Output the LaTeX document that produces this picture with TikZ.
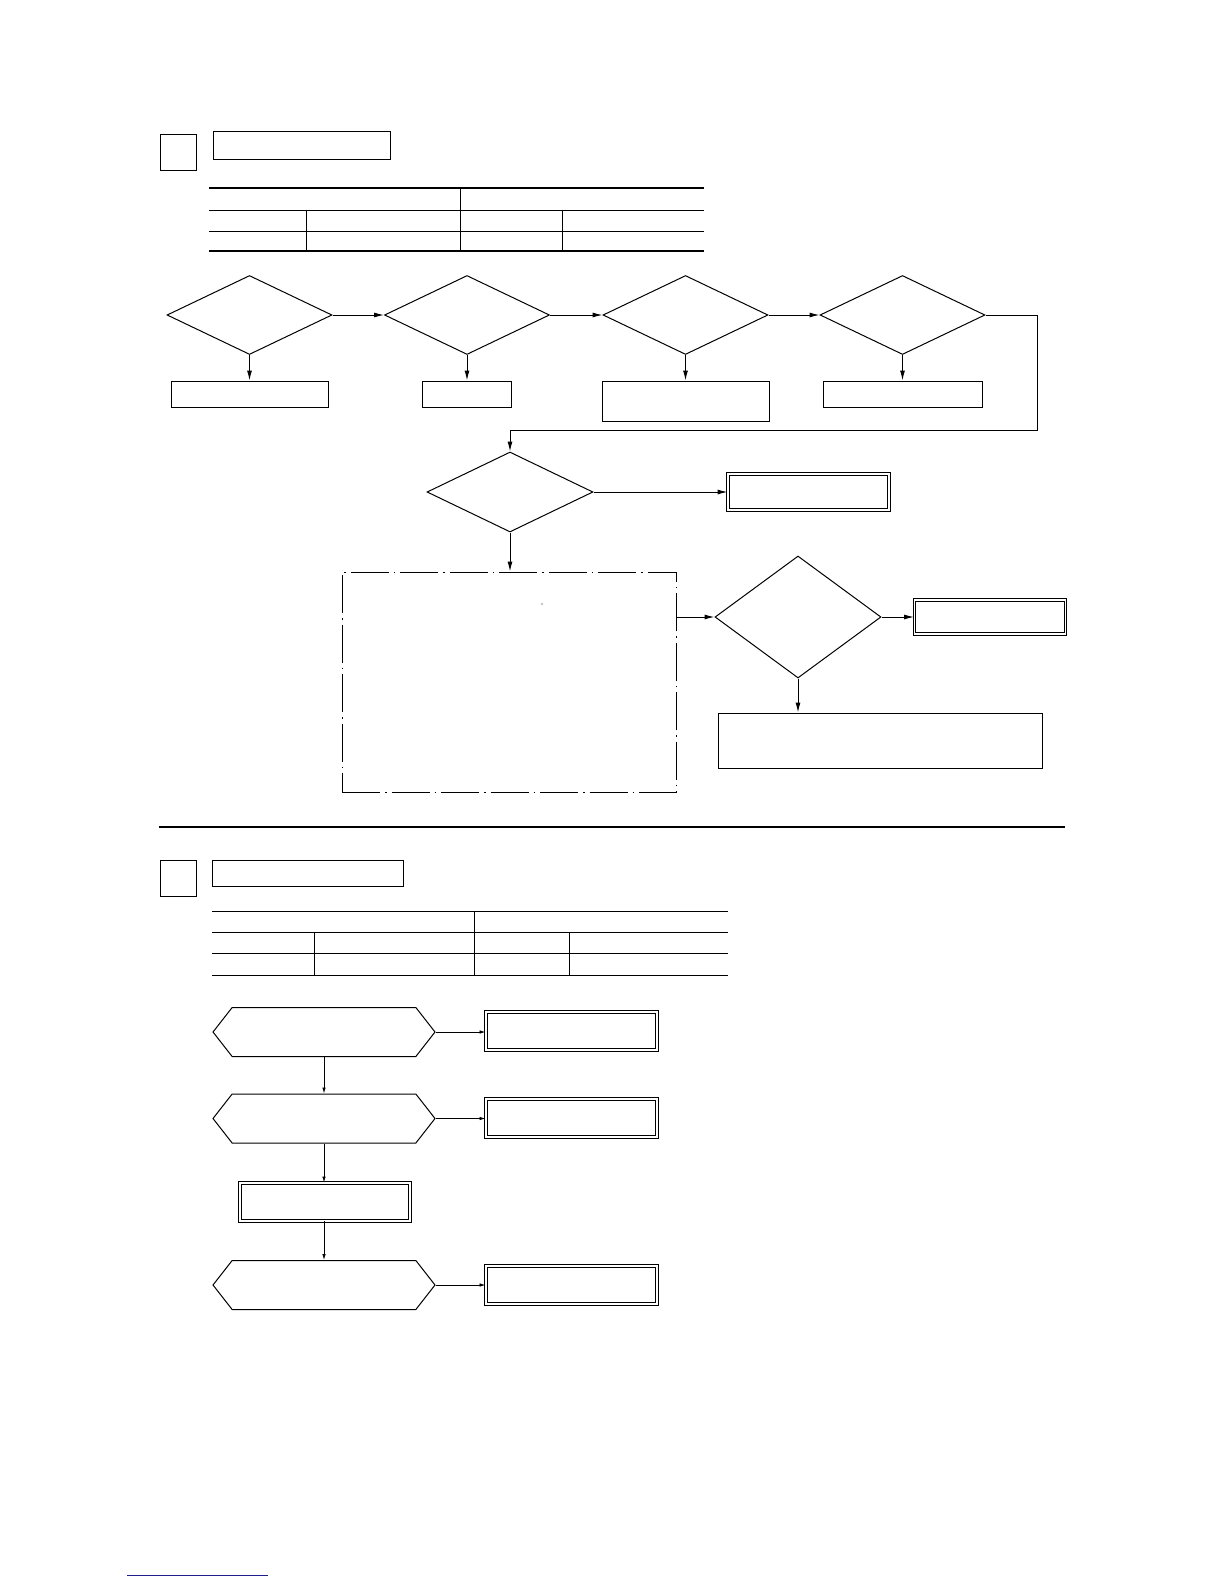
\documentclass[tikz,border=0pt]{standalone}
\usetikzlibrary{arrows.meta,shapes.geometric,shapes.symbols}
\begin{document}
\begin{tikzpicture}[x=1pt,y=-1pt,
 ln/.style={line width=1pt},
 box/.style={draw,line width=1pt,inner sep=0pt,rectangle},
 dbox/.style={draw,line width=0.9pt,double,double distance=1.6pt,inner sep=0pt,rectangle},
 dia/.style={draw,line width=1pt,diamond,inner sep=0pt,aspect=1},
 hex/.style={draw,line width=1pt,signal,signal to=east and west,signal pointer angle=104,inner sep=0pt},
 arr/.style={line width=1pt,-{Latex[length=10pt,width=5pt]}},
 sarr/.style={line width=0.8pt,-{Latex[length=6pt,width=3.5pt]}}]
\useasboundingbox (0,0) rectangle (1224,1584);
% ---------- Section A ----------
\node[box,minimum width=36,minimum height=35] (sqA) at (178,152.5) {};
\node[box,minimum width=177,minimum height=27] (ttlA) at (301.5,145.5) {};
\draw[line width=2.5pt] (209,188) -- (704,188);
\draw[ln] (209,210) -- (704,210);
\draw[ln] (209,231) -- (704,231);
\draw[line width=2.5pt] (209,251) -- (704,251);
\draw[ln] (460,188) -- (460,251);
\draw[ln] (306,210) -- (306,251);
\draw[ln] (562,210) -- (562,251);

\node[dia,minimum width=165,minimum height=79] (d1) at (249.5,315) {};
\node[dia,minimum width=165,minimum height=79] (d2) at (467,315) {};
\node[dia,minimum width=165,minimum height=79] (d3) at (685.5,315) {};
\node[dia,minimum width=165,minimum height=79] (d4) at (902.5,315) {};
\node[box,minimum width=157,minimum height=26] (b1) at (249.5,394) {};
\node[box,minimum width=89,minimum height=26] (b2) at (467,394) {};
\node[box,minimum width=167,minimum height=40] (b3) at (685.5,401) {};
\node[box,minimum width=159,minimum height=26] (b4) at (902.5,394) {};
\draw[arr] (d1.east) -- (d2.west);
\draw[arr] (d2.east) -- (d3.west);
\draw[arr] (d3.east) -- (d4.west);
\draw[arr] (d1.south) -- (b1.north);
\draw[arr] (d2.south) -- (b2.north);
\draw[arr] (d3.south) -- (b3.north);
\draw[arr] (d4.south) -- (b4.north);

\node[dia,minimum width=166,minimum height=80] (d5) at (510,492) {};
\coordinate (lr) at (1037,430);
\draw[arr] (d4.east) -| (lr) -| (d5.north);
\node[dbox,minimum width=161,minimum height=36] (e1) at (808.5,492) {};
\draw[arr] (d5.east) -- (e1.west);

\node[draw,line width=1pt,rectangle,inner sep=0pt,minimum width=334,minimum height=220,
  dash pattern=on 38pt off 5pt on 1.5pt off 5pt] (dd) at (509,682) {};
\fill (542,604) circle (0.7);
\draw[arr] (d5.south) -- (d5.south |- dd.north);

\node[dia,minimum width=166,minimum height=122] (d6) at (798,617) {};
\draw[arr] (dd.east |- d6.west) -- (d6.west);
\node[dbox,minimum width=151,minimum height=34] (e2) at (990,617) {};
\draw[arr] (d6.east) -- (e2.west);
\node[box,minimum width=324,minimum height=55] (b5) at (880,740.5) {};
\draw[arr] (d6.south) -- (d6.south |- b5.north);

\draw[line width=2pt] (159,827) -- (1065,827);

% ---------- Section B ----------
\node[box,minimum width=36,minimum height=36] (sqB) at (178,878) {};
\node[box,minimum width=191,minimum height=26] (ttlB) at (307.5,873) {};
\draw[ln] (212,911) -- (728,911);
\draw[ln] (212,932) -- (728,932);
\draw[ln] (212,953) -- (728,953);
\draw[ln] (212,975) -- (728,975);
\draw[ln] (474,911) -- (474,975);
\draw[ln] (314,932) -- (314,975);
\draw[ln] (569,932) -- (569,975);

\node[hex,minimum width=222,minimum height=49] (h1) at (324,1032) {};
\node[hex,minimum width=222,minimum height=49] (h2) at (324,1118.5) {};
\node[dbox,minimum width=170,minimum height=38] (eb) at (325,1202) {};
\node[hex,minimum width=222,minimum height=49] (h3) at (324,1285) {};
\node[dbox,minimum width=171,minimum height=38] (f1) at (571.5,1031) {};
\node[dbox,minimum width=171,minimum height=38] (f2) at (571.5,1118) {};
\node[dbox,minimum width=171,minimum height=38] (f3) at (571.5,1285) {};
\draw[sarr] (h1.east) -- (f1.west |- h1.east);
\draw[sarr] (h2.east) -- (f2.west |- h2.east);
\draw[sarr] (h3.east) -- (f3.west |- h3.east);
\draw[sarr] (h1.south) -- (h2.north);
\draw[sarr] (h2.south) -- (h2.south |- eb.north);
\draw[sarr] (h2.south |- eb.south) -- (h3.north);

\draw[line width=1pt,color={rgb,255:red,30;green,30;blue,140}] (127,1575) -- (268,1575);
\end{tikzpicture}
\end{document}
